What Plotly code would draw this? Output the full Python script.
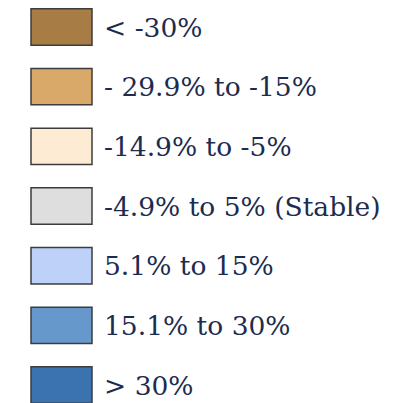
import plotly.graph_objects as go

labels = ["< -30%", "- 29.9% to -15%", "-14.9% to -5%", "-4.9% to 5% (Stable)",
          "5.1% to 15%", "15.1% to 30%", "> 30%"]
colors = ["#a87d45", "#d8a968", "#fdebd4", "#dedede", "#bed1f9", "#6698cc", "#3b72b0"]
swatch = [1, 1, 1, 1, 1, 1, 1]
rows = list(range(len(labels)))

# page body adds an 8px margin, so the figure is drawn 8px smaller and offset
W, H, OFF = 400, 395, 8
fig = go.Figure()
fig.add_trace(go.Bar(
    x=swatch, y=rows, base=0, orientation="h",
    marker=dict(color=colors, line=dict(color="#3c3c3c", width=1.5)),
    hoverinfo="skip", showlegend=False,
))
for r, t in zip(rows, labels):
    fig.add_annotation(x=1, y=r, xref="x", yref="y", text=t, showarrow=False,
                       xanchor="left", yanchor="middle", xshift=10,
                       font=dict(family="DejaVu Serif", size=26.5, color="#1c2c50"))

x0 = 31 - OFF
y0 = 27 - OFF
fig.update_layout(
    width=W, height=H, margin=dict(l=0, r=0, t=0, b=0),
    paper_bgcolor="white", plot_bgcolor="white", bargap=0.39,
    xaxis=dict(range=[-x0/61, (W-x0)/61], visible=False, fixedrange=True),
    yaxis=dict(range=[(H-y0)/59.67, -y0/59.67], visible=False, fixedrange=True),
)
fig.write_html("out.html")
